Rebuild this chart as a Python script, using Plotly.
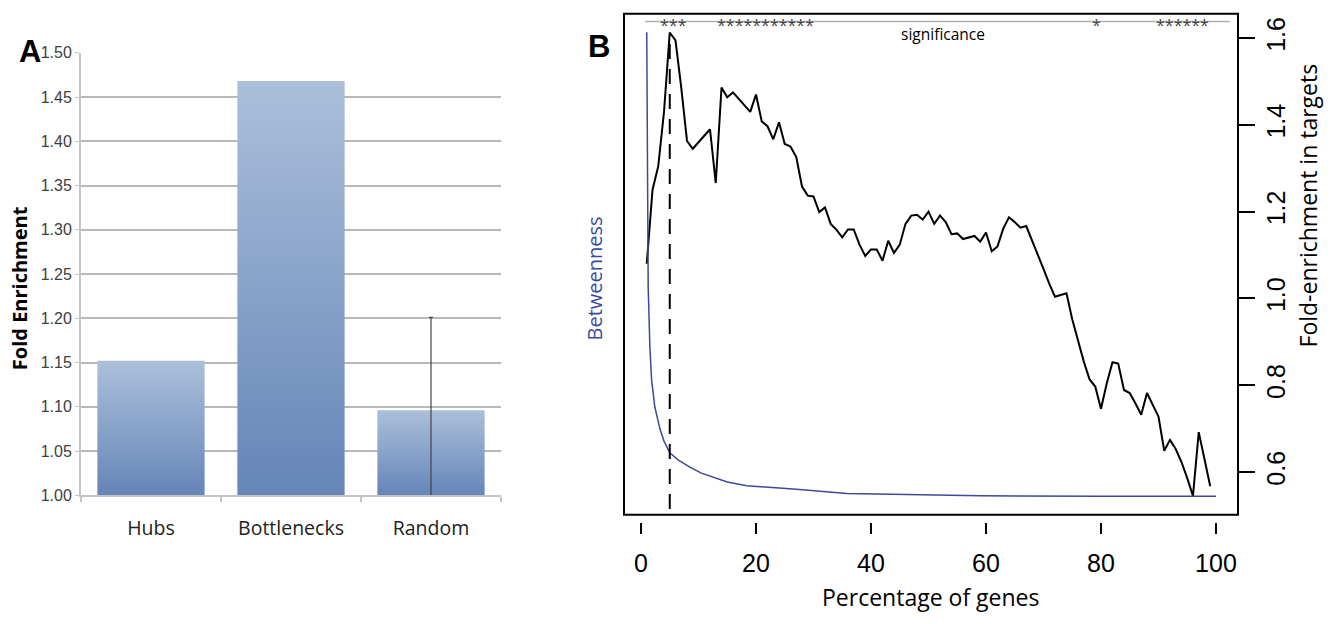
import plotly.graph_objects as go

# ---------------- Panel A data ----------------
categories = ["Hubs", "Bottlenecks", "Random"]
fold_enrichment = [1.152, 1.468, 1.096]
random_err = 0.105
a_ticks = [1.00, 1.05, 1.10, 1.15, 1.20, 1.25, 1.30, 1.35, 1.40, 1.45, 1.50]

# ---------------- Panel B data ----------------
pct_genes = list(range(1, 100))
fold_targets = [
    1.08, 1.25, 1.305, 1.43, 1.613, 1.595, 1.486, 1.363, 1.345, 1.36,
    1.375, 1.39, 1.266, 1.486, 1.464, 1.475, 1.46, 1.445, 1.43, 1.47,
    1.408, 1.397, 1.367, 1.406, 1.356, 1.35, 1.326, 1.258, 1.237, 1.235,
    1.199, 1.21, 1.172, 1.158, 1.141, 1.159, 1.159, 1.124, 1.098, 1.113,
    1.113, 1.087, 1.133, 1.105, 1.124, 1.172, 1.191, 1.193, 1.182, 1.20,
    1.172, 1.191, 1.176, 1.148, 1.15, 1.137, 1.14, 1.144, 1.131, 1.152,
    1.109, 1.12, 1.161, 1.187, 1.176, 1.163, 1.167, 1.135, 1.102, 1.068,
    1.034, 1.004, 1.008, 1.012, 0.952, 0.90, 0.855, 0.814, 0.797, 0.746,
    0.804, 0.853, 0.85, 0.789, 0.782, 0.758, 0.732, 0.782, 0.756, 0.728,
    0.649, 0.674, 0.653, 0.623, 0.586, 0.545, 0.692, 0.627, 0.567,
]
btw_x = [1, 1.1, 1.25, 1.55, 1.85, 2.4, 3.3, 4, 5, 6.5, 8.5, 10.5, 12.5, 15,
         18.4, 22, 27, 35.8, 47, 59, 80, 100]
btw_norm = [1.0, 0.6, 0.45, 0.32, 0.25, 0.193, 0.145, 0.119, 0.094, 0.078,
            0.063, 0.05, 0.042, 0.031, 0.023, 0.019, 0.015, 0.006, 0.004,
            0.001, 0.0, 0.0]
cutoff_pct = 5
b_xticks = [0, 20, 40, 60, 80, 100]
b_yticks = [0.6, 0.8, 1.0, 1.2, 1.4, 1.6]
sig_groups = [("***", 5.6), ("***********", 21.6), ("*", 79.3), ("******", 94.1)]

W, H = 1332, 624


def px_x(p):
    return p / W


def px_y(p):
    return (H - p) / H


# panel B frame in page pixels
B_TOP, B_BOT = 6, 521
B_H = B_BOT - B_TOP
y2_range = [1.6 - (B_BOT - 31) / 446, 1.6 + (31 - B_TOP) / 446]
y3_range = [-(B_BOT - 502) / 477, 1 + (25 - B_TOP) / 477]
sig_y = (B_BOT - 14) / B_H

fig = go.Figure()

# Panel A bars (gradient fill)
half_w = 0.383
for i, (cat, val) in enumerate(zip(categories, fold_enrichment)):
    fig.add_trace(go.Scatter(
        x=[i - half_w, i - half_w, i + half_w, i + half_w, i - half_w],
        y=[a_ticks[0], val, val, a_ticks[0], a_ticks[0]],
        fill="toself", mode="lines", line=dict(width=0),
        fillgradient=dict(type="vertical",
                          colorscale=[[0, "#6585b8"], [1, "#abbfda"]]),
        name=cat, showlegend=False, hoverinfo="skip",
        xaxis="x", yaxis="y",
    ))
fig.add_trace(go.Scatter(
    x=[2], y=[fold_enrichment[2]], mode="markers",
    marker=dict(size=1, color="rgba(0,0,0,0)"),
    error_y=dict(type="data", array=[random_err], color="#444444",
                 thickness=1.2, width=2),
    showlegend=False, xaxis="x", yaxis="y",
))

# Panel B lines
fig.add_trace(go.Scatter(
    x=btw_x, y=btw_norm, mode="lines", line=dict(color="#3b4a9c", width=1.5),
    showlegend=False, xaxis="x2", yaxis="y3",
))
fig.add_trace(go.Scatter(
    x=pct_genes, y=fold_targets, mode="lines", line=dict(color="black", width=2),
    showlegend=False, xaxis="x2", yaxis="y2",
))

shapes = [
    dict(type="rect", xref="x2 domain", yref="y2 domain", x0=0, x1=1, y0=0, y1=1,
         line=dict(color="black", width=2), layer="above"),
    dict(type="line", xref="x2", yref="y2 domain", x0=cutoff_pct, x1=cutoff_pct,
         y0=(B_BOT - 515) / B_H, y1=(B_BOT - 32) / B_H,
         line=dict(color="black", width=2, dash="15px,10px")),
    dict(type="line", xref="x2", yref="y2 domain", x0=0.7, x1=102.4,
         y0=sig_y, y1=sig_y, line=dict(color="#b0b0b0", width=1.5), layer="below"),
]


def ann(text, x, y, size, color="black", family="Open Sans", angle=0, **kw):
    d = dict(text=text, x=x, y=y, xref="paper", yref="paper", showarrow=False,
             xanchor="center", yanchor="middle", textangle=angle,
             font=dict(family=family, size=size, color=color))
    d.update(kw)
    return d


annotations = [
    ann("<b>A</b>", px_x(30), px_y(45), 31, family="Liberation Sans"),
    ann("<b>B</b>", px_x(599), px_y(40), 31, family="Liberation Sans"),
    ann("<b>Fold Enrichment</b>", px_x(19), px_y(288), 20, angle=-90),
    ann("Betweenness", px_x(594), px_y(278), 20, color="#3b4a9c", angle=-90),
    ann("Fold-enrichment in targets", px_x(1308), px_y(203), 23, angle=-90),
    ann("Percentage of genes", px_x(930), px_y(605), 23),
    dict(text="significance", x=52.5, y=(B_BOT - 13) / B_H, xref="x2", yref="y2 domain",
         xanchor="center", yanchor="top", showarrow=False,
         font=dict(family="Open Sans", size=15.5, color="black")),
]
for stars, xc in sig_groups:
    annotations.append(dict(text=stars, x=xc, y=sig_y, xref="x2", yref="y2 domain",
                            xanchor="center", yanchor="middle", yshift=-3,
                            showarrow=False,
                            font=dict(family="Open Sans", size=16, color="#444444")))

fig.update_layout(
    width=W, height=H, margin=dict(l=0, r=0, t=0, b=0),
    paper_bgcolor="white", plot_bgcolor="white", showlegend=False,
    xaxis=dict(domain=[px_x(81), px_x(501)], range=[-0.5, 2.5],
               tickvals=[0, 1, 2], ticktext=categories, ticks="",
               showline=True, linecolor="#c4c4c4", linewidth=2,
               showgrid=False, zeroline=False, ticklabelstandoff=14,
               minor=dict(tickvals=[-0.5, 0.5, 1.5, 2.5], ticks="outside",
                          ticklen=5, tickcolor="#c4c4c4", tickwidth=1.5),
               tickfont=dict(family="Open Sans", size=19.5, color="#222222"),
               anchor="y"),
    yaxis=dict(domain=[px_y(501), px_y(46)], range=[a_ticks[0], a_ticks[-1]],
               tickvals=a_ticks, tickformat=".2f", ticks="outside", ticklen=4,
               tickcolor="#c4c4c4", showline=True, linecolor="#c4c4c4", linewidth=2,
               showgrid=True, gridcolor="#b8b8b8", gridwidth=1.5, zeroline=False,
               tickfont=dict(family="Liberation Sans Narrow, Liberation Sans", size=16,
                             color="#404040"),
               anchor="x"),
    xaxis2=dict(domain=[px_x(624), px_x(1238)], range=[-2.957, 103.83],
                tickvals=b_xticks, ticks="outside", ticklen=11, tickwidth=2,
                tickcolor="black", showline=False, showgrid=False, zeroline=False,
                anchor="free", position=px_y(528), ticklabelstandoff=8,
                tickfont=dict(family="Liberation Sans", size=25, color="black")),
    yaxis2=dict(domain=[px_y(B_BOT), px_y(B_TOP)], range=y2_range,
                tickvals=b_yticks, tickformat=".1f", side="right", anchor="x2",
                ticks="outside", ticklen=16, tickwidth=2, tickcolor="black",
                tickangle=-90, showline=False, showgrid=False, zeroline=False,
                tickfont=dict(family="Liberation Sans", size=25, color="black")),
    yaxis3=dict(domain=[px_y(B_BOT), px_y(B_TOP)], range=y3_range,
                overlaying="y2", anchor="x2", visible=False),
    shapes=shapes, annotations=annotations,
)

# remove the browser's default body margin so the figure sits at the page origin
fig.write_html("out.html",
               config={"displayModeBar": False},
               post_script="document.body.style.margin='0';"
                           "document.documentElement.style.overflow='hidden';")
